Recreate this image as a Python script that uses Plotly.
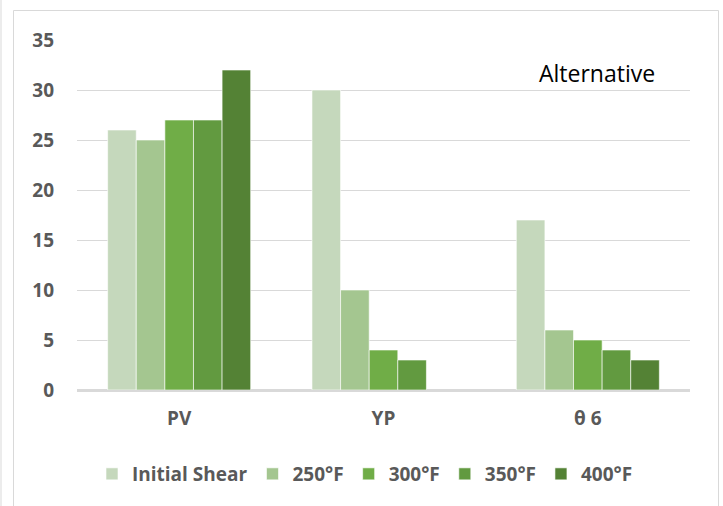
import plotly.graph_objects as go

categories = ["PV", "YP", "θ 6"]
series_names = ["Initial Shear", "250°F", "300°F", "350°F", "400°F"]
initial_shear = [26, 30, 17]
f250 = [25, 10, 6]
f300 = [27, 4, 5]
f350 = [27, 3, 4]
f400 = [32, None, 3]
y_ticks = [0, 5, 10, 15, 20, 25, 30, 35]

series_values = [initial_shear, f250, f300, f350, f400]
colors = ["#C5D8BC", "#A4C690", "#70AD47", "#629A40", "#548235"]

W, H = 723, 506
L, R, T, B = 77, 33, 40, 116
pw, ph = W - L - R, H - T - B

def px(x):
    return (x - L) / pw

def py(y):
    return (H - B - y) / ph

fig = go.Figure()
for name, vals, c in zip(series_names, series_values, colors):
    fig.add_trace(go.Bar(
        x=categories, y=vals, name=name,
        marker=dict(color=c, line=dict(color="white", width=0.6)),
    ))

font_fam = "Open Sans"
tick_font = dict(size=19, color="#595959", family=font_fam, weight="bold")
fig.update_layout(
    width=W, height=H,
    margin=dict(l=L, r=R, t=T, b=B, autoexpand=False),
    paper_bgcolor="white", plot_bgcolor="white",
    barmode="group", bargap=0.3, bargroupgap=0.0,
    font=dict(family=font_fam, color="#595959"),
    showlegend=True,
    legend=dict(
        orientation="h", x=px(365), xanchor="center", y=py(474), yanchor="middle",
        font=dict(size=19, color="#595959", family=font_fam, weight="bold"),
        itemwidth=30, traceorder="normal",
    ),
    xaxis=dict(
        showgrid=False, showline=False, ticks="",
        tickfont=tick_font,
        ticklabelstandoff=15,
    ),
    yaxis=dict(
        range=[0, 35], tickvals=y_ticks, showgrid=True, gridcolor="#D9D9D9", gridwidth=1,
        zeroline=True, zerolinecolor="#D9D9D9", zerolinewidth=2.5,
        showline=False, ticks="",
        tickfont=tick_font,
        ticklabelstandoff=22,
    ),
    annotations=[dict(
        text="Alternative", xref="paper", yref="paper",
        x=px(597), y=py(73), xanchor="center", yanchor="middle",
        showarrow=False, font=dict(size=23, color="black", family=font_fam),
    )],
    shapes=[
        dict(type="rect", xref="paper", yref="paper",
             x0=px(13.5), x1=px(718.5), y0=py(10.5), y1=py(530),
             line=dict(color="#D9D9D9", width=1), fillcolor="rgba(0,0,0,0)", layer="below"),
        dict(type="line", xref="paper", yref="paper",
             x0=px(1), x1=px(1), y0=py(0), y1=py(530),
             line=dict(color="#D9D9D9", width=1)),
    ],
)

fig.write_html("out.html", config={"displayModeBar": False},
               post_script="document.body.style.margin='0';")
